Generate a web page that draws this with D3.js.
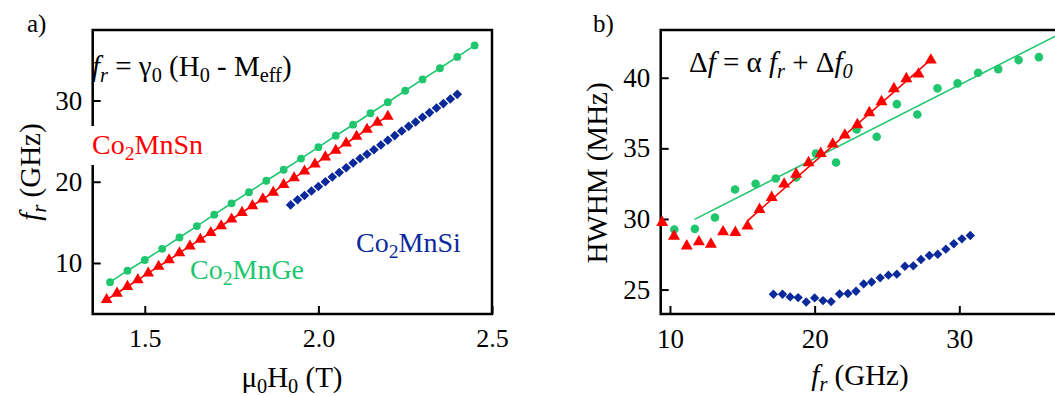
<!DOCTYPE html>
<html><head><meta charset="utf-8">
<script src="https://cdn.jsdelivr.net/npm/d3@7"></script>
<style>
html,body{margin:0;padding:0;background:#fff;}
svg{display:block;font-family:"Liberation Serif","Times New Roman",serif;}
text{white-space:pre;}
</style>
</head><body>
<svg id="c" width="1055" height="396"></svg>
<script>
// ---------- Panel a data: field (T) vs resonance frequency (GHz) ----------
const fieldGe = [1.40,1.45,1.50,1.55,1.60,1.65,1.70,1.75,1.80,1.85,1.90,1.95,2.00,2.05,2.10,2.15,2.20,2.25,2.30,2.35,2.40,2.45];
const freqGe  = [7.64,9.05,10.37,11.74,13.14,14.54,15.95,17.35,18.72,20.12,21.48,22.85,24.26,25.66,27.02,28.43,29.79,31.20,32.60,33.97,35.37,36.78];
const fieldSn = [1.39,1.42,1.45,1.48,1.51,1.54,1.57,1.60,1.63,1.66,1.69,1.72,1.75,1.78,1.81,1.84,1.87,1.90,1.93,1.96,1.99,2.02,2.05,2.08,2.11,2.14,2.17,2.20];
const freqSn  = [5.49,6.27,7.10,7.93,8.76,9.59,10.37,11.24,12.07,12.90,13.73,14.55,15.38,16.21,17.04,17.87,18.70,19.65,20.48,21.30,22.17,23.04,23.87,24.74,25.57,26.44,27.31,28.05];
const fieldSi = [1.92,1.94,1.96,1.98,2.00,2.02,2.04,2.06,2.08,2.10,2.12,2.14,2.16,2.18,2.20,2.22,2.24,2.26,2.28,2.30,2.32,2.34,2.36,2.38,2.40];
const freqSi  = [17.15,17.78,18.31,18.86,19.42,20.00,20.58,21.14,21.72,22.30,22.86,23.39,23.94,24.53,25.10,25.68,26.24,26.82,27.35,27.93,28.51,29.07,29.62,30.18,30.76];

// ---------- Panel b data: frequency (GHz) vs HWHM (MHz) ----------
const frSnB = [9.46,10.28,11.16,12.00,12.83,13.67,14.52,15.36,16.19,17.03,17.89,18.72,19.58,20.42,21.25,22.09,22.95,23.78,24.62,25.48,26.34,27.18,28.03];
const hwSnB = [29.75,28.78,28.09,28.38,28.21,29.09,29.04,29.49,30.67,31.52,32.47,33.17,33.98,34.64,35.30,35.94,36.67,37.52,38.30,39.22,39.93,40.26,41.25];
const frGeB = [10.30,11.72,13.11,14.50,15.92,17.31,18.72,20.09,21.48,22.90,24.29,25.68,27.10,28.49,29.88,31.30,32.69,34.10,35.50];
const hwGeB = [29.25,29.30,30.10,32.09,32.49,32.87,32.94,34.64,34.00,36.34,35.82,38.13,37.40,39.25,39.60,40.35,40.61,41.25,41.46];
const frSiB = [17.15,17.78,18.31,18.86,19.42,20.00,20.58,21.14,21.72,22.30,22.86,23.39,23.94,24.53,25.10,25.68,26.24,26.82,27.35,27.93,28.51,29.07,29.62,30.18,30.76];
const hwSiB = [24.67,24.67,24.48,24.43,24.12,24.41,24.22,24.15,24.69,24.72,24.88,25.40,25.54,25.83,26.02,26.09,26.65,26.68,27.13,27.41,27.50,27.86,28.24,28.59,28.83];
// linear fits (end points)
const fitSnX = [15.34,28.18], fitSnY = [29.85,41.43];
const fitGeX = [11.70,37.50], fitGeY = [29.97,43.39];

// ---------- ticks ----------
const xTicksA = [1.5,2.0,2.5], xTickLabelsA = ["1.5","2.0","2.5"];
const yTicksA = [10,20,30],    yTickLabelsA = ["10","20","30"];
const xTicksB = [10,20,30],    xTickLabelsB = ["10","20","30"];
const yTicksB = [25,30,35,40], yTickLabelsB = ["25","30","35","40"];

const GREEN = "#20c66e", RED = "#ff0000", BLUE = "#0a2a9c";
const svg = d3.select("#c");

const A = {l:92.7, r:492, t:30, b:314};
const B = {l:660.7, r:1060, t:30, b:314};
const xA = d3.scaleLinear().domain([1.35,2.5]).range([A.l,A.r]);
const yA = d3.scaleLinear().domain([3.72,38.68]).range([A.b,A.t]);
const xB = d3.scaleLinear().domain([9.36,36.96]).range([B.l,B.r]);
const yB = d3.scaleLinear().domain([23.27,43.38]).range([B.b,B.t]);

function rich(sel, segs, fs){
  let shifted = false; const sh = fs*0.22;
  segs.forEach(([t,k])=>{
    const sp = sel.append("tspan").text(t);
    if(k.includes("i")) sp.attr("font-style","italic");
    if(k.includes("s")){
      sp.attr("font-size", fs*0.7);
      if(!shifted){ sp.attr("dy", sh); shifted = true; }
    } else if(shifted){ sp.attr("dy", -sh); shifted = false; }
  });
  return sel;
}

function styleAxis(g, fs){
  g.select(".domain").remove();
  g.attr("font-family",null).attr("font-size",null);
  g.selectAll(".tick line").attr("stroke","#000").attr("stroke-width",2);
  g.selectAll(".tick text").attr("fill","#000").attr("font-size",fs)
    .attr("font-family",'"Liberation Serif","Times New Roman",serif');
}

function drawAxes(P, x, y, xt, xl, yt, yl, fsx, fsy){
  const gx = svg.append("g").attr("transform",`translate(0,${P.b})`)
    .call(d3.axisBottom(x).tickValues(xt).tickFormat((d,i)=>xl[i]).tickSizeInner(-8).tickSizeOuter(0).tickPadding(14.5));
  styleAxis(gx, fsx);
  const gy = svg.append("g").attr("transform",`translate(${P.l},0)`)
    .call(d3.axisLeft(y).tickValues(yt).tickFormat((d,i)=>yl[i]).tickSizeInner(-8).tickSizeOuter(0).tickPadding(10.5));
  styleAxis(gy, fsy);
  svg.append("rect").attr("x",P.l).attr("y",P.t).attr("width",P.r-P.l).attr("height",P.b-P.t)
    .attr("fill","none").attr("stroke","#000").attr("stroke-width",2.5);
}

// clip for panel b
svg.append("clipPath").attr("id","clipB").append("rect")
  .attr("x",B.l).attr("y",B.t).attr("width",B.r-B.l).attr("height",B.b-B.t);

drawAxes(A, xA, yA, xTicksA, xTickLabelsA, yTicksA, yTickLabelsA, 26, 27);
drawAxes(B, xB, yB, xTicksB, xTickLabelsB, yTicksB, yTickLabelsB, 27, 27);

const tri = s => d3.symbol().type(d3.symbolTriangle).size(s)();
const dia = s => d3.symbol().type(d3.symbolSquare).size(s)();

function circles(xs, ys, x, y, r, c){
  svg.append("g").selectAll("circle").data(xs.map((v,i)=>[v,ys[i]])).join("circle")
    .attr("cx",d=>x(d[0])).attr("cy",d=>y(d[1])).attr("r",r).attr("fill",c);
}
function triangles(xs, ys, x, y, s, c){
  svg.append("g").selectAll("path").data(xs.map((v,i)=>[v,ys[i]])).join("path")
    .attr("d",tri(s)).attr("transform",d=>`translate(${x(d[0])},${y(d[1])})`).attr("fill",c);
}
function diamonds(xs, ys, x, y, s, c){
  svg.append("g").selectAll("path").data(xs.map((v,i)=>[v,ys[i]])).join("path")
    .attr("d",dia(s)).attr("transform",d=>`translate(${x(d[0])},${y(d[1])}) rotate(45)`).attr("fill",c);
}
function line(xs, ys, x, y, c, w, clip){
  const p = svg.append("path").datum(xs.map((v,i)=>[v,ys[i]]))
    .attr("d", d3.line().x(d=>x(d[0])).y(d=>y(d[1])))
    .attr("fill","none").attr("stroke",c).attr("stroke-width",w);
  if(clip) p.attr("clip-path",`url(#${clip})`);
}

// ---------- Panel a ----------
line(fieldGe, freqGe, xA, yA, GREEN, 1.6);
circles(fieldGe, freqGe, xA, yA, 3.9, GREEN);
line(fieldSn, freqSn, xA, yA, RED, 1.6);
triangles(fieldSn, freqSn, xA, yA, 58, RED);
diamonds(fieldSi, freqSi, xA, yA, 46, BLUE);

// ---------- Panel b ----------
circles(frGeB, hwGeB, xB, yB, 4.3, GREEN);
line(fitGeX, fitGeY, xB, yB, GREEN, 1.6, "clipB");
triangles(frSnB, hwSnB, xB, yB, 62, RED);
line(fitSnX, fitSnY, xB, yB, RED, 1.6, "clipB");
diamonds(frSiB, hwSiB, xB, yB, 44, BLUE);

// ---------- Texts ----------
const T = (x,y,fs,fill)=>svg.append("text").attr("x",x).attr("y",y).attr("font-size",fs).attr("fill",fill||"#000");

T(27,32,25).text("a)");
T(593,32,25).text("b)");

rich(T(92,76,29), [["f","i"],["r","is"],[" = γ",""],["0","s"],[" (H",""],["0","s"],[" - M",""],["eff","s"],[")",""]], 29);
rich(T(689,72,29), [["Δ",""],["f","i"],[" = α ",""],["f","i"],["r","is"],[" + Δ",""],["f","i"],["0","is"]], 29);

// label with white backing
svg.append("rect").attr("x",88).attr("y",126).attr("width",118).attr("height",39).attr("fill","#fff");
rich(T(92,153.5,28,RED), [["Co",""],["2","s"],["MnSn",""]], 28);
rich(T(190,278.5,28,GREEN), [["Co",""],["2","s"],["MnGe",""]], 28);
rich(T(356,251.5,28,BLUE), [["Co",""],["2","s"],["MnSi",""]], 28);

// axis titles
rich(T(292,387,29).attr("text-anchor","middle"), [["μ",""],["0","s"],["H",""],["0","s"],[" (T)",""]], 29);
rich(T(860,385,29).attr("text-anchor","middle"), [["f","i"],["r","is"],[" (GHz)",""]], 29);
rich(svg.append("text").attr("transform","translate(40,172) rotate(-90)").attr("text-anchor","middle").attr("font-size",29), [["f","i"],["r","is"],[" (GHz)",""]], 29);
svg.append("text").attr("transform","translate(607,173) rotate(-90)").attr("text-anchor","middle").attr("font-size",29).text("HWHM (MHz)");
</script>
</body></html>
